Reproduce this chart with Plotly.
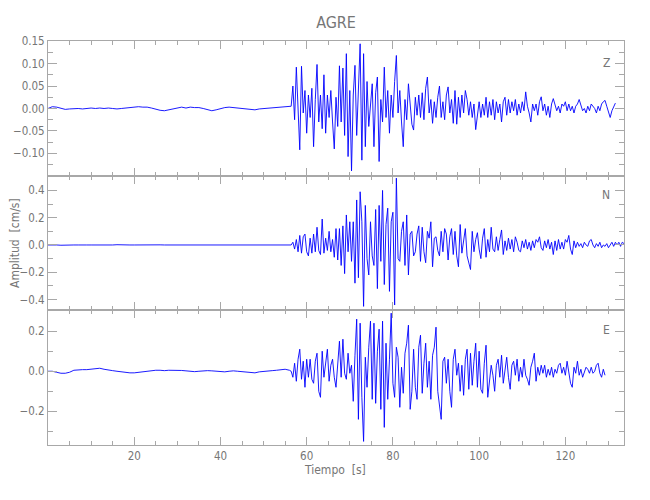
import numpy as np
import plotly.graph_objects as go
from plotly.subplots import make_subplots

# ---------------- data ----------------
# quiet part: one sample per second from t = 0 s to 56 s
QUIET_T0, QUIET_DT = 0.0, 1.0
# active part: one sample every 0.4 s starting at t = 56.4 s
ACT_T0, ACT_DT = 56.4, 0.4

# Z component, in units of 0.001 cm/s
z_quiet = [0, 4, 3, 0, -2, -1, 0, 0, -1, 0, 1, 0, 1, 0, 1, 0, -1, 0, 1, 2,
           3, 4, 3, 3, 1, -2, -4, -5, -3, 0, 2, 3, 1, 3, 2, 2, 0, -3, -5, -3,
           0, 2, 3, 2, 1, 0, -2, -3, -3, -1, 0, 1, 2, 3, 4, 5, 5]
z_active = [5, 50, -25, 92, -20, -92, 94, -10, 40, -55,
            30, -20, 45, -85, 20, 98, -30, 30, -45, 75,
            -55, 30, -20, 40, -30, -90, 25, -40, 95, -30,
            90, -60, 122, -107, 40, -139, 30, 96, -60, 50,
            144, -115, 122, -85, 60, -40, 20, 55, -85, 35,
            70, -118, 20, -30, 92, -20, 40, -55, 30, -20,
            60, 118, -10, 40, -30, -85, 20, -25, 55, 10,
            -35, -48, 25, -15, 30, -20, 35, -25, 45, 70,
            -10, 20, -33, 15, -20, 25, 50, -20, 15, -25,
            30, 48, -10, 20, -33,
            40, -35, 25, -20, 30, -10, 40, 20, -15, 15,
            -20, 10, -47, -10, 15, -20, 10, -15, 25, -20,
            15, -15, 20, -25, 15, -10, 10, -30, 15, 25,
            -15, 20, -10, 15, -5, 20, -15, 10, -10, 15,
            -5, 37, 5, -10, -30, 10, -5, 10, -15, 15,
            26, -5, 10, -15, 5, -20, 10, 22, 10, -5,
            5, -10, 10, 5, 15, -5, 10, -5, 5, -10,
            5, 10, 20, 5, -5, 0, -10, 5, -5, 10,
            5, 0, -10, 5, -5, 10, 15, 18, 5, -10,
            -20, -5, 5, 12]

# N component, in units of 0.01 cm/s
n_quiet = [0, 0.2, 0, -0.2, 0, 0.1, 0, 0, 0.2, 0,
           0, -0.1, 0, 0.1, 0, 0, 0.2, 0, -0.1, 0,
           0, 0.1, 0, 0, -0.1, 0, 0.1, 0, 0, 0.1,
           0, 0.2, 0.3, 0.1, 0, -0.1, 0, 0.1, 0, 0,
           0.1, 0, -0.1, 0, 0, 0.1, 0, 0, -0.1, 0,
           0, 0.1, 0, 0.1, 0.2, 0.3, 0.2]
n_active = [0, 2, -3, 4, -5, 7, -6, 6, 8, -5,
            -8, 5, -6, 8, -5, 13, -4, -7, 19, -6,
            5, -4, 10, -5, 4, -9, 12, -11, 12, -15,
            14, -21, 22, -5, 17, -12, 17, -28, 33, -24,
            39, 17, -45, 29, -10, -22, 17, -8, -15, 26,
            -32, 29, -12, 40, -29, 15, 27, -34, 17, 24,
            -44, 49, -10, -12, 10, 17, -15, 22, -22, 8,
            10, -8, -5, 8, 14, -12, 13, -5, -13, 10,
            5, 17, -16, 5, 6, -4, -8, 10, -5, 12,
            8, -11, 6, 12, -7,
            10, -8, -16, 15, -6, 4, 12, -8, -13, -18,
            10, -5, 4, 9, -3, -10, 5, 12, -9, 4,
            -5, 13, -3, -5, 6, -4, 4, 11, -7, 3,
            -4, 5, -3, 4, -5, 6, 2, -4, -5, 3,
            -2, 4, -3, 2, -4, 3, -2, 4, 2, 6,
            -2, -4, 3, -2, 4, -3, 2, -7, 3, -4,
            4, -3, 2, -3, 4, 2, 7, -3, -7, 3,
            -2, 2, -1, 1, -2, 2, 0, -1, 3, 4,
            0, -2, 1, -1, 2, -2, 0, -1, 1, -2,
            0, 2, -1, 2, 0, 2, -1, 2, 1]

# E component, in units of 0.01 cm/s
e_quiet = [0, 0, -0.5, -1, -1, -0.5, 0.5, 0.8, 0.8, 0.8,
           1, 1.5, 1.5, 1, 0.5, 0.3, 0, -0.3, -0.6, -0.8,
           -0.8, -0.5, -0.3, 0, 0.3, 0.5, 0.5, 0.3, 0.5, 0.5,
           0.6, 0.4, 0.2, 0, -0.2, 0, 0.3, 0.3, 0.2, 0,
           -0.2, -0.3, 0, 0.2, 0, -0.2, -0.5, -0.8, -0.8, -0.3,
           0, 0.3, 0.3, 0.5, 0.8, 1, 0.5]
e_active = [0, -3, 4, -5, 6, 11, -4, 5, -8, 6,
            -3, 6, -4, -6, 5, 9, -10, -13, 10, -3,
            4, 11, -5, 3, 6, -3, -8, 5, 15, -3,
            16, -1, -4, 9, -1, 3, -15, 8, 26, -24,
            24, -13, -35, 7, -8, 12, 25, -14, 24, -16,
            10, 21, -19, 25, -28, 14, -14, 6, 29, -6,
            -13, 12, 7, -18, 2, -11, 9, 14, 23, -19,
            -10, 11, -8, -14, 12, 18, -11, 4, 14, -8,
            5, -14, 8, 12, 22, -10, -18, -24, 5, 7,
            -6, 6, -10, -18, 6,
            11, -2, 4, -10, 3, -12, 6, 11, -9, 9,
            -7, 5, 14, -8, 10, -9, -11, 4, 13, -13,
            -3, 3, -2, -10, 3, 6, -3, 8, -6, 2,
            7, -3, -9, 3, 5, -2, 6, -5, 2, -3,
            6, -2, -4, -7, 2, 5, 9, -5, 2, -2,
            3, -1, 3, -3, 1, -2, 2, -3, 1, -1,
            3, 4, -1, 2, -2, 5, -1, -6, -8, 2,
            -1, 5, -2, 1, -3, 0, 2, 1, -1, 2,
            -1, 0, 3, 4, -1, -3, 1, -2]

components = ["Z", "N", "E"]
x_ticks = [20, 40, 60, 80, 100, 120]

# ---------------- assemble series ----------------
def series(quiet, active, scale):
    tq = QUIET_T0 + QUIET_DT * np.arange(len(quiet))
    ta = ACT_T0 + ACT_DT * np.arange(len(active))
    t = np.concatenate([tq, ta])
    v = np.concatenate([np.asarray(quiet, float), np.asarray(active, float)]) * scale
    return t, v

traces = [series(z_quiet, z_active, 0.001),
          series(n_quiet, n_active, 0.01),
          series(e_quiet, e_active, 0.01)]

GRAY = "#a8a8a8"
TXT = "#767676"
FONT = "Liberation Sans Narrow, DejaVu Sans Condensed, Liberation Sans, sans-serif"

fig = make_subplots(rows=3, cols=1, shared_xaxes=True, vertical_spacing=0)
for i, (t, v) in enumerate(traces):
    fig.add_trace(go.Scatter(x=t, y=v, mode="lines",
                             line=dict(color="#0000ff", width=0.9),
                             showlegend=False, hoverinfo="skip"),
                  row=i + 1, col=1)

yranges = [[-0.1495, 0.1502], [-0.479, 0.508], [-0.368, 0.304]]
ydticks = [0.05, 0.2, 0.2]
yminor = [0.025, 0.1, 0.1]
yfmt = [".2f", ".1f", ".1f"]
h = 1.0 / 3
for i in range(3):
    r = i + 1
    dom = [1 - (i + 1) * h, 1 - i * h]
    fig.update_yaxes(row=r, col=1, domain=dom, range=yranges[i],
                     tickmode="linear", tick0=0, dtick=ydticks[i], tickformat=yfmt[i],
                     showline=True, linecolor=GRAY, linewidth=1, mirror="allticks",
                     ticks="inside", ticklen=9, tickcolor=GRAY, tickwidth=1,
                     minor=dict(ticks="inside", ticklen=5, tickcolor=GRAY,
                                tick0=0, dtick=yminor[i]),
                     showgrid=False, zeroline=False, ticklabelstandoff=0,
                     tickfont=dict(family=FONT, size=11.5, color=TXT))
    fig.update_xaxes(row=r, col=1, range=[0, 133.6],
                     tickmode="array", tickvals=x_ticks,
                     showline=True, linecolor=GRAY, linewidth=1, mirror="allticks",
                     ticks="inside", ticklen=8, tickcolor=GRAY, tickwidth=1,
                     minor=dict(ticks="inside", ticklen=4, tickcolor=GRAY,
                                tick0=0, dtick=5),
                     showgrid=False, zeroline=False,
                     showticklabels=(r == 3),
                     tickfont=dict(family=FONT, size=11.5, color=TXT))

label_y = [0.84, 0.855, 0.853]
for i, c in enumerate(components):
    sfx = "" if i == 0 else str(i + 1)
    fig.add_annotation(text=c, xref=f"x{sfx} domain", yref=f"y{sfx} domain",
                       x=0.969, y=label_y[i], xanchor="center", yanchor="middle",
                       showarrow=False,
                       font=dict(family=FONT, size=12, color=TXT))

fig.add_annotation(text="Amplitud  [cm/s]", xref="paper", yref="paper",
                   x=-0.0573, y=0.5, xanchor="center", yanchor="middle",
                   textangle=-90, showarrow=False,
                   font=dict(family=FONT, size=12, color=TXT))
fig.add_annotation(text="Tiempo  [s]", xref="paper", yref="paper",
                   x=0.498, y=-0.062, xanchor="center", yanchor="middle",
                   showarrow=False,
                   font=dict(family=FONT, size=12, color=TXT))

fig.update_layout(
    width=650, height=500,
    margin=dict(l=48, r=26, t=41, b=55, autoexpand=False),
    paper_bgcolor="white", plot_bgcolor="white",
    title=dict(text="AGRE", x=0.517, xanchor="center", y=0.956, yanchor="middle",
               font=dict(family=FONT, size=16, color=TXT)),
)

fig.write_html("out.html", config={"displayModeBar": False},
               post_script="document.body.style.margin='0';")
